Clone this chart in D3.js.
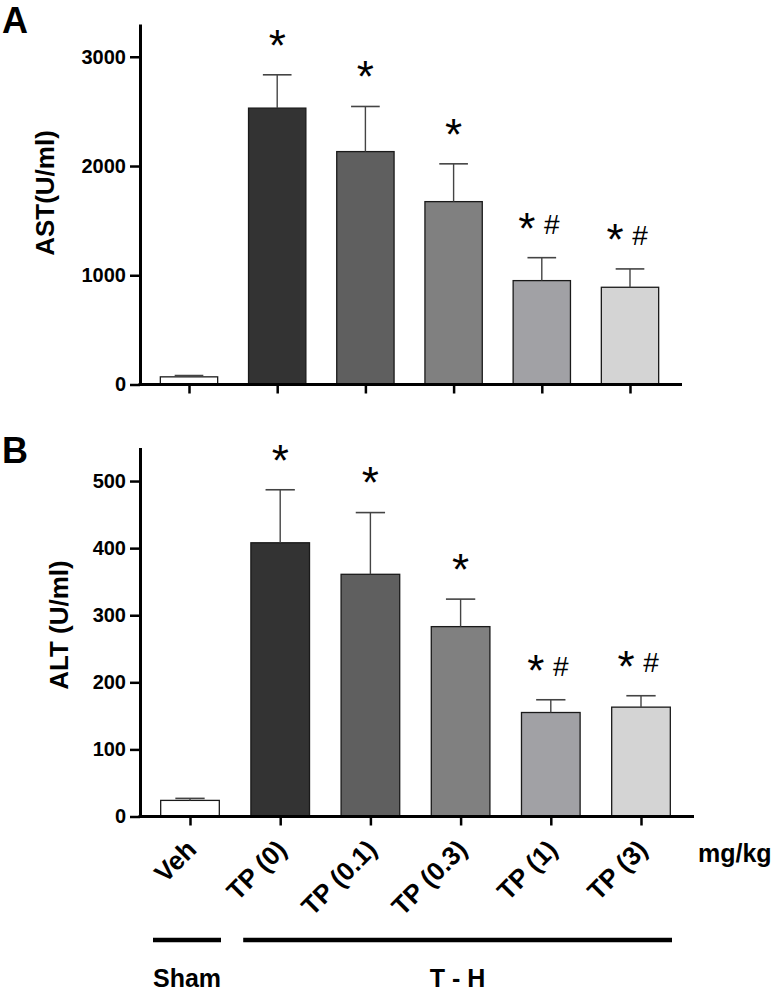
<!DOCTYPE html>
<html>
<head>
<meta charset="utf-8">
<script src="https://cdn.jsdelivr.net/npm/d3@7"></script>
<style>
  html, body { margin: 0; padding: 0; background: #fff; }
  svg { display: block; }
  text { font-family: "Liberation Sans", Arial, Helvetica, sans-serif; }
</style>
</head>
<body>
<script>
// ---------------- data ----------------
const categories = ["Veh", "TP (0)", "TP (0.1)", "TP (0.3)", "TP (1)", "TP (3)"];
const astMean = [70, 2530, 2132, 1674, 951, 890];
const astSem  = [12, 305, 413, 346, 210, 168];
const altMean = [24, 408, 361, 283, 155, 163];
const altSem  = [3, 79, 92, 41, 19, 17];
const marks   = ["", "*", "*", "*", "* #", "* #"];
const astTicks = [0, 1000, 2000, 3000];
const altTicks = [0, 100, 200, 300, 400, 500];
const groupNames = ["Sham", "T - H"];
const groupStart = [0, 1];
const groupEnd   = [0, 5];
const unitLabel = "mg/kg";

// ---------------- drawing ----------------
const W = 778, H = 992;
const svg = d3.select("body").append("svg").attr("width", W).attr("height", H);
const barColor = d3.scaleOrdinal().domain(categories)
  .range(["#ffffff", "#333333", "#5f5f5f", "#808080", "#a1a1a5", "#d4d4d4"]);
const FONT = '"Liberation Sans", Arial, Helvetica, sans-serif';
const STAR = 44, HASH = 28;

function panel(opt) {
  const g = svg.append("g");
  const x = d3.scalePoint().domain(categories).range(opt.xRange);
  const bw = x.step() * 0.65;
  const y = d3.scaleLinear().domain([0, opt.yMax]).range([opt.y0, opt.yTop]);

  // bars
  g.selectAll("rect.bar").data(categories).join("rect")
    .attr("x", d => x(d) - bw / 2)
    .attr("y", (d, i) => y(opt.mean[i]))
    .attr("width", bw)
    .attr("height", (d, i) => y(0) - y(opt.mean[i]))
    .attr("fill", d => barColor(d))
    .attr("stroke", "#1a1a1a").attr("stroke-width", 1.3);

  // error bars (upper only)
  const eg = g.selectAll("g.err").data(categories).join("g");
  eg.append("line")
    .attr("x1", d => x(d)).attr("x2", d => x(d))
    .attr("y1", (d, i) => y(opt.mean[i]))
    .attr("y2", (d, i) => y(opt.mean[i] + opt.sem[i]))
    .attr("stroke", "#444").attr("stroke-width", 1.4);
  eg.append("line")
    .attr("x1", d => x(d) - bw / 4).attr("x2", d => x(d) + bw / 4)
    .attr("y1", (d, i) => y(opt.mean[i] + opt.sem[i]))
    .attr("y2", (d, i) => y(opt.mean[i] + opt.sem[i]))
    .attr("stroke", "#444").attr("stroke-width", 1.6);

  // significance marks
  categories.forEach((c, i) => {
    const m = marks[i];
    if (!m) return;
    const cy = y(opt.mean[i] + opt.sem[i]) - 37;
    const parts = m.split(" ");
    if (parts.length === 1) {
      g.append("text").attr("x", x(c)).attr("y", cy + 0.52 * STAR)
        .attr("text-anchor", "middle").attr("font-size", STAR).text("*");
    } else {
      g.append("text").attr("x", x(c) - 15).attr("y", cy + 0.52 * STAR)
        .attr("text-anchor", "middle").attr("font-size", STAR).text(parts[0]);
      g.append("text").attr("x", x(c) + 10).attr("y", cy + 0.36 * HASH + 3)
        .attr("text-anchor", "middle").attr("font-size", HASH).text(parts[1]);
    }
  });

  // y axis
  const ya = g.append("g").attr("transform", `translate(${opt.xAxis},0)`)
    .call(d3.axisLeft(y).tickValues(opt.ticks).tickFormat(d3.format("d"))
      .tickSize(10).tickPadding(4).tickSizeOuter(0));
  ya.select(".domain").attr("stroke", "#000").attr("stroke-width", 3);
  ya.selectAll(".tick line").attr("stroke", "#000").attr("stroke-width", 2.5);
  ya.selectAll(".tick text").attr("font-family", FONT).attr("font-size", 20)
    .attr("font-weight", "bold").attr("fill", "#000");

  // x axis baseline + ticks
  g.append("line").attr("x1", opt.xAxis - 1.5).attr("x2", opt.xEnd)
    .attr("y1", y(0)).attr("y2", y(0)).attr("stroke", "#000").attr("stroke-width", 3);
  const xa = g.append("g").attr("transform", `translate(0,${y(0)})`)
    .call(d3.axisBottom(x).tickSize(9).tickFormat(() => ""));
  xa.select(".domain").remove();
  xa.selectAll(".tick line").attr("stroke", "#000").attr("stroke-width", 2.5);

  // y title
  g.append("text")
    .attr("transform", `translate(${opt.titleX},${opt.titleY}) rotate(-90)`)
    .attr("text-anchor", "middle").attr("font-size", 26).attr("font-weight", "bold")
    .text(opt.title);

  // panel letter
  g.append("text").attr("x", 2).attr("y", opt.letterY)
    .attr("font-size", 36).attr("font-weight", "bold").text(opt.letter);

  return { x, y, g };
}

panel({
  xRange: [189, 630], xAxis: 140, xEnd: 682,
  y0: 384.5, yTop: 24, yMax: 3300,
  mean: astMean, sem: astSem, ticks: astTicks,
  title: "AST(U/ml)", titleX: 54, titleY: 193, letter: "A", letterY: 33
});

const pB = panel({
  xRange: [190, 641], xAxis: 140, xEnd: 694,
  y0: 816.5, yTop: 447.5, yMax: 550,
  mean: altMean, sem: altSem, ticks: altTicks,
  title: "ALT (U/ml)", titleX: 68, titleY: 625, letter: "B", letterY: 463
});

// rotated category labels under panel B
svg.append("g").selectAll("text").data(categories).join("text")
  .attr("transform", d => `translate(${pB.x(d) + 8},${851}) rotate(-45)`)
  .attr("text-anchor", "end").attr("font-size", 26).attr("font-weight", "bold")
  .text(d => d);

svg.append("text").attr("x", 698).attr("y", 862)
  .attr("font-size", 25).attr("font-weight", "bold").text(unitLabel);

// group lines
const gx = pB.x;
groupNames.forEach((name, i) => {
  const x1 = gx(categories[groupStart[i]]) - 37;
  const x2 = gx(categories[groupEnd[i]]) + 31;
  svg.append("line").attr("x1", x1).attr("x2", x2).attr("y1", 940).attr("y2", 940)
    .attr("stroke", "#000").attr("stroke-width", 4.5);
  svg.append("text").attr("x", (x1 + x2) / 2).attr("y", 987)
    .attr("text-anchor", "middle").attr("font-size", 25).attr("font-weight", "bold")
    .text(name);
});
</script>
</body>
</html>
